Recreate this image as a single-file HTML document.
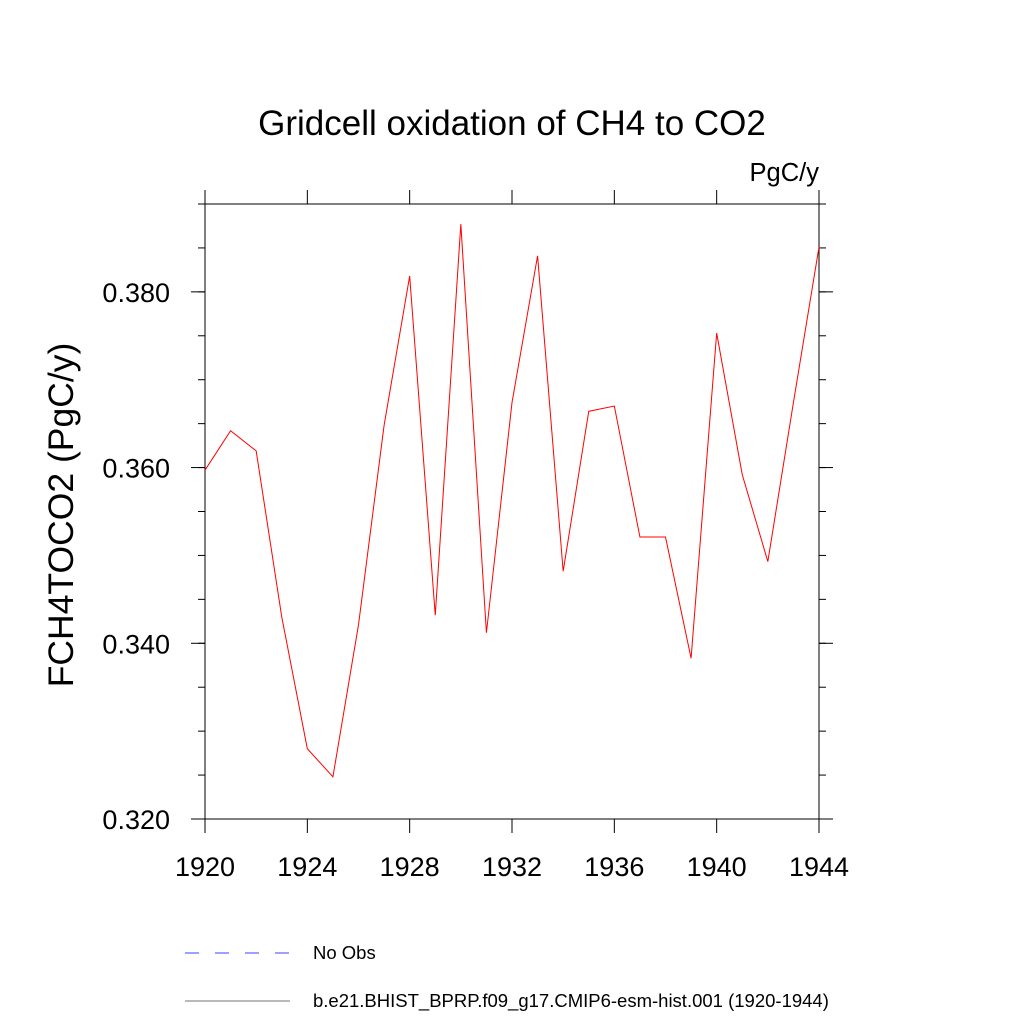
<!DOCTYPE html>
<html><head><meta charset="utf-8"><style>
body{margin:0;background:#fff;}
svg{display:block;font-family:"Liberation Sans",sans-serif;}
</style></head><body>
<svg id="c" width="1024" height="1024">
<text x="512" y="135" font-size="35" text-anchor="middle">Gridcell oxidation of CH4 to CO2</text>
<text x="819" y="181" font-size="25.5" text-anchor="end">PgC/y</text>
<text transform="translate(73,515) rotate(-90)" font-size="35.5" text-anchor="middle">FCH4TOCO2  (PgC/y)</text>
<rect x="205" y="204" width="614" height="615" fill="none" stroke="#000" stroke-width="1"/>
<g id="ticks"></g>
<polyline id="line" fill="none" stroke="#ff0000" stroke-width="1"/>
<line x1="185" y1="953" x2="290" y2="953" stroke="#0000ff" stroke-dasharray="14,16" stroke-width="0.8"/>
<text x="313" y="959" font-size="18.5">No Obs</text>
<line x1="185" y1="1001" x2="290" y2="1001" stroke="#444" stroke-width="0.8"/>
<text x="313" y="1007" font-size="18.5">b.e21.BHIST_BPRP.f09_g17.CMIP6-esm-hist.001 (1920-1944)</text>
</svg>
<script>
const years=[1920,1921,1922,1923,1924,1925,1926,1927,1928,1929,1930,1931,1932,1933,1934,1935,1936,1937,1938,1939,1940,1941,1942,1943,1944];
const values=[0.3597,0.3642,0.3619,0.3430,0.3280,0.3248,0.3421,0.3648,0.3818,0.3432,0.3877,0.3412,0.3674,0.3841,0.3482,0.3664,0.3670,0.3521,0.3521,0.3383,0.3753,0.3592,0.3493,0.3674,0.3851];
const yTicks=[0.320,0.340,0.360,0.380];
const xTicks=[1920,1924,1928,1932,1936,1940,1944];
const X0=205,X1=819,Y0=819,Y1=204;
const xs=v=>X0+(v-1920)/(1944-1920)*(X1-X0);
const ys=v=>Y0-(v-0.320)/(0.390-0.320)*(Y0-Y1);
const NS="http://www.w3.org/2000/svg";
const g=document.getElementById('ticks');
function ln(x1,y1,x2,y2,name){const l=document.createElementNS(NS,'line');l.setAttribute('x1',x1);l.setAttribute('y1',y1);l.setAttribute('x2',x2);l.setAttribute('y2',y2);l.setAttribute('stroke','#000');


g.appendChild(l);}
function tx(x,y,s,anchor,name){const t=document.createElementNS(NS,'text');t.setAttribute('x',x);t.setAttribute('y',y);t.setAttribute('font-size','27');t.setAttribute('text-anchor',anchor);t.textContent=s;


g.appendChild(t);}
yTicks.forEach(v=>{const y=ys(v);ln(X0-14,y,X0,y,'y-major-tick');ln(X1,y,X1+14,y,'y-major-tick-right');tx(X0-35,y+10,v.toFixed(3),'end','y-tick-label');});
for(let v=0.325;v<0.3901;v+=0.005){const y=ys(v);ln(X0-7,y,X0,y,'y-minor-tick');ln(X1,y,X1+7,y,'y-minor-tick-right');}
xTicks.forEach(v=>{const x=xs(v);ln(x,Y0,x,Y0+14,'x-major-tick');ln(x,Y1-14,x,Y1,'x-major-tick-top');tx(x,Y0+57,String(v),'middle','x-tick-label');});
document.getElementById('line').setAttribute('points',years.map((yr,i)=>xs(yr)+','+ys(values[i])).join(' '));
</script>
</body></html>
